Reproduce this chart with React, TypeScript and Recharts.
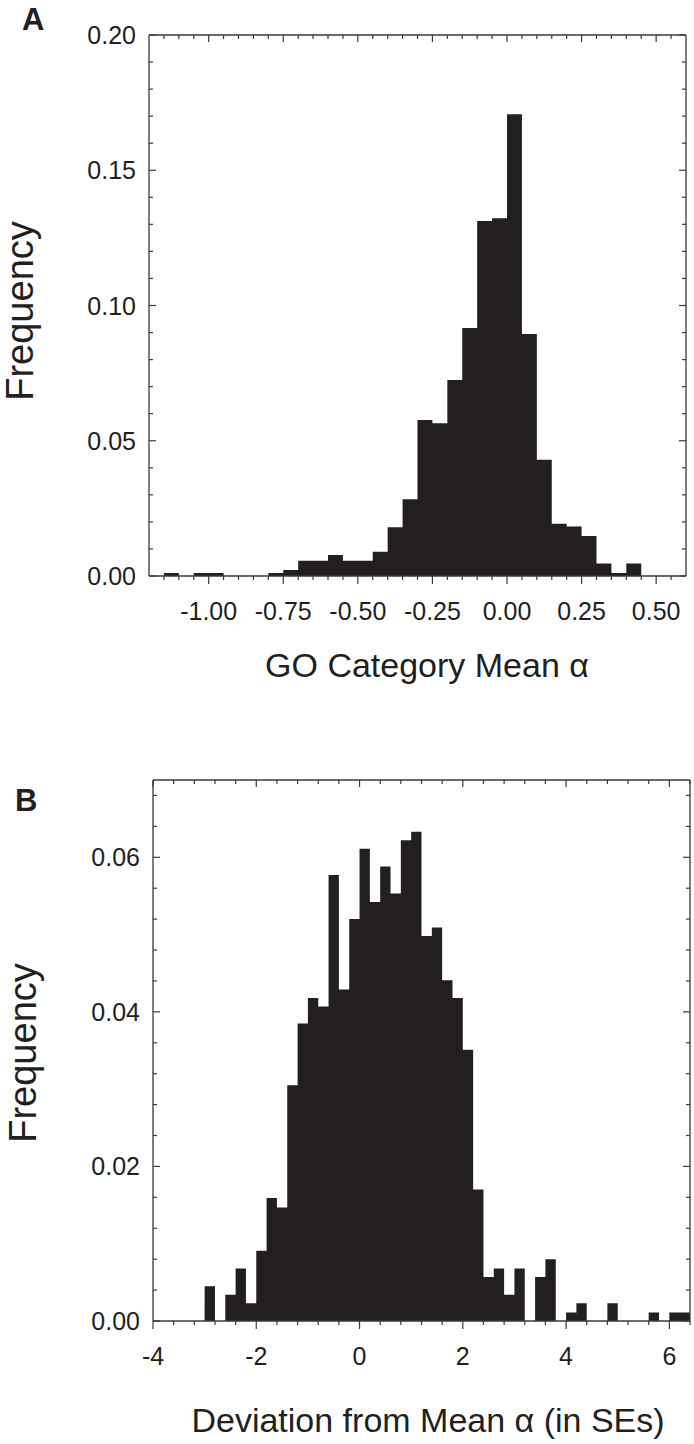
import React from 'react';
import { AreaChart, Area, XAxis, YAxis } from 'recharts';

// ---------- Panel A data ----------
const binStartA = [
  -1.2, -1.15, -1.1, -1.05, -1.0, -0.95, -0.9, -0.85, -0.8, -0.75, -0.7, -0.65,
  -0.6, -0.55, -0.5, -0.45, -0.4, -0.35, -0.3, -0.25, -0.2, -0.15, -0.1, -0.05,
  0.0, 0.05, 0.1, 0.15, 0.2, 0.25, 0.3, 0.35, 0.4, 0.45, 0.5, 0.55, 0.6,
];
const freqA = [
  0, 0.0011, 0, 0.0011, 0.0011, 0, 0, 0, 0.0011, 0.0022, 0.0056, 0.0056,
  0.0078, 0.0056, 0.0056, 0.009, 0.018, 0.0284, 0.0577, 0.0565, 0.0725, 0.0917, 0.1312, 0.1323,
  0.1707, 0.0895, 0.043, 0.0193, 0.0183, 0.0148, 0.0046, 0.0011, 0.0046, 0, 0, 0, 0,
];
const xMajorA = [-1.0, -0.75, -0.5, -0.25, 0.0, 0.25, 0.5];
const xMinorA = [
  -1.15, -1.1, -1.05, -0.95, -0.9, -0.85, -0.8, -0.7, -0.65, -0.6, -0.55, -0.45, -0.4,
  -0.35, -0.3, -0.2, -0.15, -0.1, -0.05, 0.05, 0.1, 0.15, 0.2, 0.3, 0.35, 0.4, 0.45, 0.55,
];
const yMajorA = [0, 0.05, 0.1, 0.15, 0.2];
const yMinorA = [
  0.01, 0.02, 0.03, 0.04, 0.06, 0.07, 0.08, 0.09, 0.11, 0.12, 0.13, 0.14, 0.16, 0.17, 0.18, 0.19,
];

// ---------- Panel B data ----------
const binStartB = [
  -3.0, -2.8, -2.6, -2.4, -2.2, -2.0, -1.8, -1.6, -1.4, -1.2, -1.0, -0.8, -0.6, -0.4, -0.2,
  0.0, 0.2, 0.4, 0.6, 0.8, 1.0, 1.2, 1.4, 1.6, 1.8, 2.0, 2.2, 2.4, 2.6, 2.8, 3.0, 3.2, 3.4,
  3.6, 3.8, 4.0, 4.2, 4.4, 4.6, 4.8, 5.0, 5.2, 5.4, 5.6, 5.8, 6.0, 6.2, 6.4,
];
const freqB = [
  0.0045, 0, 0.0034, 0.0068, 0.0023, 0.0091, 0.0159, 0.0147, 0.0305, 0.0385, 0.0418, 0.0407,
  0.0577, 0.0429, 0.052, 0.0611, 0.0542, 0.0588, 0.0553, 0.0622, 0.0633, 0.0498, 0.0509,
  0.0441, 0.0418, 0.0351, 0.017, 0.0057, 0.0068, 0.0034, 0.0068, 0, 0.0057, 0.008, 0,
  0.0011, 0.0023, 0, 0, 0.0023, 0, 0, 0, 0.0011, 0, 0.0011, 0.0011, 0,
];
const xMajorB = [-4, -2, 0, 2, 4, 6];
const xMinorB = [
  -3.6, -3.2, -2.8, -2.4, -1.6, -1.2, -0.8, -0.4, 0.4, 0.8, 1.2, 1.6, 2.4, 2.8, 3.2, 3.6,
  4.4, 4.8, 5.2, 5.6, 6.4,
];
const yMajorB = [0, 0.02, 0.04, 0.06];
const yMinorB = [
  0.004, 0.008, 0.012, 0.016, 0.024, 0.028, 0.032, 0.036, 0.044, 0.048, 0.052, 0.056, 0.064, 0.068,
];

const FONT = '"Liberation Sans", Arial, Helvetica, sans-serif';
const INK = '#231f20';
const LINE = '#3a3a3a';
const TICK_FS = 25;

const isMajor = (majors: number[], v: number) => majors.some((m) => Math.abs(m - v) < 1e-6);
const sortAll = (a: number[], b: number[]) => [...a, ...b].sort((p, q) => p - q);

function makeBottomTick(majors: number[], fmt: (v: number) => string) {
  return (props: any) => {
    const { x, y, payload } = props;
    const major = isMajor(majors, payload.value);
    return (
      <g>
        <line x1={x} x2={x} y1={y} y2={y + (major ? 8 : 4)} stroke={LINE} strokeWidth={1.2} />
        {major && (
          <text x={x} y={y + 44} textAnchor="middle" fontFamily={FONT} fontSize={TICK_FS} fill={INK}>
            {fmt(payload.value)}
          </text>
        )}
      </g>
    );
  };
}
function makeTopTick(majors: number[]) {
  return (props: any) => {
    const { x, y, payload } = props;
    const major = isMajor(majors, payload.value);
    return <line x1={x} x2={x} y1={y} y2={y + (major ? 7 : 4)} stroke={LINE} strokeWidth={1.2} />;
  };
}
function makeLeftTick(majors: number[], fmt: (v: number) => string) {
  return (props: any) => {
    const { x, y, payload } = props;
    const major = isMajor(majors, payload.value);
    return (
      <g>
        <line x1={x} x2={x + (major ? 7 : 4)} y1={y} y2={y} stroke={LINE} strokeWidth={1.2} />
        {major && (
          <text x={x - 13} y={y} dy="0.36em" textAnchor="end" fontFamily={FONT} fontSize={TICK_FS} fill={INK}>
            {fmt(payload.value)}
          </text>
        )}
      </g>
    );
  };
}
function makeRightTick(majors: number[]) {
  return (props: any) => {
    const { x, y, payload } = props;
    const major = isMajor(majors, payload.value);
    return <line x1={x} x2={x - (major ? 7 : 4)} y1={y} y2={y} stroke={LINE} strokeWidth={1.2} />;
  };
}

type PanelProps = {
  data: { x: number; v: number }[];
  width: number;
  height: number;
  margin: { top: number; right: number; bottom: number; left: number };
  xDomain: [number, number];
  yDomain: [number, number];
  xMajor: number[];
  xMinor: number[];
  yMajor: number[];
  yMinor: number[];
  xFmt: (v: number) => string;
  yFmt: (v: number) => string;
};

function Panel(p: PanelProps) {
  const xt = sortAll(p.xMajor, p.xMinor);
  const yt = sortAll(p.yMajor, p.yMinor);
  const axisLine = { stroke: LINE, strokeWidth: 1.3 };
  return (
    <AreaChart width={p.width} height={p.height} data={p.data} margin={p.margin}>
      <XAxis
        xAxisId="main"
        dataKey="x"
        type="number"
        domain={p.xDomain}
        ticks={xt}
        interval={0}
        height={1}
        tickSize={0}
        tickMargin={0}
        axisLine={axisLine}
        tickLine={false}
        tick={makeBottomTick(p.xMajor, p.xFmt)}
        allowDataOverflow
      />
      <XAxis
        xAxisId="top"
        orientation="top"
        dataKey="x"
        type="number"
        domain={p.xDomain}
        ticks={xt}
        interval={0}
        height={1}
        tickSize={0}
        tickMargin={0}
        axisLine={axisLine}
        tickLine={false}
        tick={makeTopTick(p.xMajor)}
        allowDataOverflow
      />
      <YAxis
        yAxisId="main"
        type="number"
        domain={p.yDomain}
        ticks={yt}
        interval={0}
        width={1}
        tickSize={0}
        tickMargin={0}
        axisLine={axisLine}
        tickLine={false}
        tick={makeLeftTick(p.yMajor, p.yFmt)}
        allowDataOverflow
      />
      <YAxis
        yAxisId="right"
        orientation="right"
        type="number"
        domain={p.yDomain}
        ticks={yt}
        interval={0}
        width={1}
        tickSize={0}
        tickMargin={0}
        axisLine={axisLine}
        tickLine={false}
        tick={makeRightTick(p.yMajor)}
        allowDataOverflow
      />
      <Area
        xAxisId="top"
        yAxisId="right"
        dataKey="v"
        type="stepAfter"
        fill="none"
        stroke="none"
        isAnimationActive={false}
      />
      <Area
        xAxisId="main"
        yAxisId="main"
        dataKey="v"
        type="stepAfter"
        fill={INK}
        fillOpacity={1}
        stroke="none"
        isAnimationActive={false}
      />
    </AreaChart>
  );
}

const dataA = binStartA.map((x, i) => ({ x, v: freqA[i] }));
const dataB = binStartB.map((x, i) => ({ x, v: freqB[i] }));

export default function App() {
  return (
    <div style={{ position: 'absolute', left: 0, top: 0, width: 694, height: 1444, background: '#fff', overflow: 'hidden' }}>
      <div style={{ position: 'absolute', left: 0, top: 0 }}>
        <Panel
          data={dataA}
          width={694}
          height={700}
          margin={{ top: 34, right: 7, bottom: 123, left: 148 }}
          xDomain={[-1.2, 0.6]}
          yDomain={[0, 0.2]}
          xMajor={xMajorA}
          xMinor={xMinorA}
          yMajor={yMajorA}
          yMinor={yMinorA}
          xFmt={(v) => v.toFixed(2)}
          yFmt={(v) => v.toFixed(2)}
        />
      </div>
      <div style={{ position: 'absolute', left: 0, top: 700 }}>
        <Panel
          data={dataB}
          width={694}
          height={744}
          margin={{ top: 79, right: 3, bottom: 122, left: 152 }}
          xDomain={[-4, 6.4]}
          yDomain={[0, 0.07]}
          xMajor={xMajorB}
          xMinor={xMinorB}
          yMajor={yMajorB}
          yMinor={yMinorB}
          xFmt={(v) => String(Math.round(v))}
          yFmt={(v) => v.toFixed(2)}
        />
      </div>
      <svg width={694} height={1444} style={{ position: 'absolute', left: 0, top: 0, pointerEvents: 'none' }}>
        <g fontFamily={FONT} fill={INK}>
          <text x={22} y={30} fontSize={31} fontWeight="bold">A</text>
          <text x={15} y={811} fontSize={31} fontWeight="bold">B</text>
          <text x={33} y={311} fontSize={38} textAnchor="middle" transform="rotate(-90 33 311)">Frequency</text>
          <text x={36} y={1053} fontSize={38} textAnchor="middle" transform="rotate(-90 36 1053)">Frequency</text>
          <text x={427} y={677} fontSize={34} textAnchor="middle">GO Category Mean α</text>
          <text x={428} y={1432} fontSize={34} textAnchor="middle">Deviation from Mean α (in SEs)</text>
        </g>
      </svg>
    </div>
  );
}
